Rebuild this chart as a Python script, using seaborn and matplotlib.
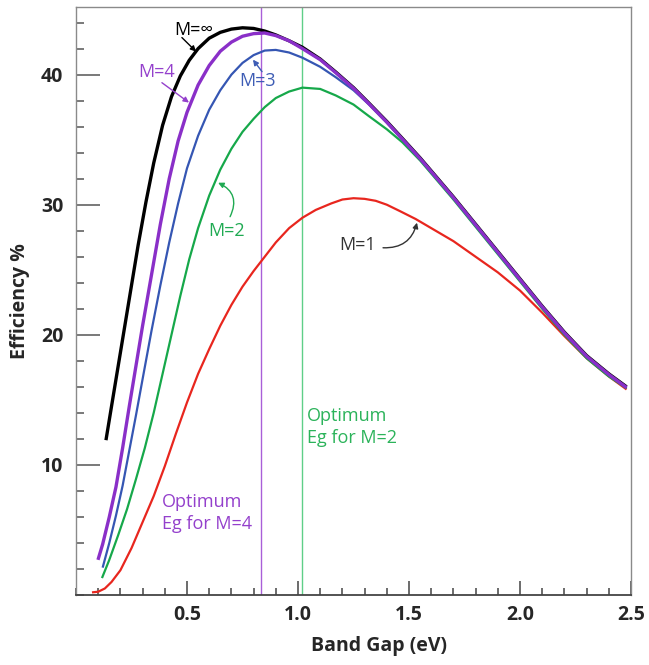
import matplotlib
matplotlib.use("Agg")
import matplotlib.pyplot as plt
from matplotlib.ticker import MultipleLocator, FixedLocator
import pandas as pd
import seaborn as sns

# Curvas (band gap en eV, eficiencia en %)
eg_inf = [0.135, 0.16, 0.19, 0.22, 0.25, 0.28, 0.315, 0.35, 0.39, 0.43, 0.47, 0.51, 0.55, 0.6,
          0.65, 0.7, 0.75, 0.8, 0.85, 0.9, 0.96, 1.02, 1.1, 1.17, 1.25, 1.32, 1.4, 1.47, 1.55,
          1.62, 1.7, 1.8, 1.9, 2.0, 2.1, 2.2, 2.3, 2.4, 2.48]
eff_inf = [11.9, 14.5, 17.6, 20.7, 23.8, 26.9, 30.2, 33.2, 36.1, 38.3, 39.9, 41.1, 42.0, 42.8,
           43.25, 43.5, 43.6, 43.55, 43.35, 43.05, 42.6, 42.1, 41.2, 40.2, 39.0, 37.8, 36.4, 35.1,
           33.6, 32.2, 30.6, 28.5, 26.4, 24.3, 22.2, 20.2, 18.4, 17.0, 16.0]

eg_m4 = [0.099, 0.12, 0.15, 0.18, 0.21, 0.24, 0.27, 0.30, 0.34, 0.38, 0.42, 0.46, 0.50, 0.55,
         0.6, 0.65, 0.7, 0.75, 0.8, 0.85, 0.9, 0.96, 1.02, 1.1, 1.17, 1.25, 1.32, 1.4, 1.47, 1.55,
         1.62, 1.7, 1.8, 1.9, 2.0, 2.1, 2.2, 2.3, 2.4, 2.48]
eff_m4 = [2.7, 3.9, 6.0, 8.3, 11.3, 14.5, 17.6, 20.7, 24.6, 28.5, 32.0, 34.9, 37.1, 39.2,
          40.7, 41.8, 42.5, 42.95, 43.15, 43.2, 43.0, 42.6, 42.0, 41.15, 40.15, 38.95, 37.75, 36.35,
          35.05, 33.55, 32.15, 30.55, 28.45, 26.35, 24.25, 22.15, 20.15, 18.35, 16.95, 15.95]

eg_m3 = [0.12, 0.15, 0.18, 0.21, 0.24, 0.27, 0.30, 0.34, 0.38, 0.42, 0.46, 0.50, 0.55, 0.6,
         0.65, 0.7, 0.75, 0.8, 0.85, 0.9, 0.96, 1.02, 1.1, 1.17, 1.25, 1.32, 1.4, 1.47, 1.55,
         1.62, 1.7, 1.8, 1.9, 2.0, 2.1, 2.2, 2.3, 2.4, 2.48]
eff_m3 = [2.1, 4.0, 6.1, 8.4, 11.1, 13.8, 16.6, 20.3, 23.8, 27.1, 30.1, 32.8, 35.3, 37.3,
          38.8, 40.0, 40.9, 41.5, 41.85, 41.9, 41.7, 41.3, 40.6, 39.8, 38.8, 37.7, 36.3, 35.0,
          33.5, 32.1, 30.5, 28.4, 26.3, 24.2, 22.1, 20.1, 18.3, 16.9, 15.9]

eg_m2 = [0.117, 0.15, 0.19, 0.23, 0.27, 0.31, 0.35, 0.39, 0.43, 0.47, 0.51, 0.55, 0.6, 0.65,
         0.7, 0.75, 0.8, 0.85, 0.9, 0.96, 1.02, 1.1, 1.17, 1.25, 1.32, 1.4, 1.47, 1.55, 1.62,
         1.7, 1.8, 1.9, 2.0, 2.1, 2.2, 2.3, 2.4, 2.48]
eff_m2 = [1.3, 2.7, 4.6, 6.6, 8.9, 11.3, 14.0, 17.0, 20.0, 23.0, 25.8, 28.2, 30.7, 32.7,
          34.3, 35.6, 36.6, 37.5, 38.2, 38.7, 39.0, 38.9, 38.4, 37.7, 36.8, 35.8, 34.8, 33.4, 32.0,
          30.4, 28.3, 26.2, 24.1, 22.0, 20.0, 18.2, 16.8, 15.9]

eg_m1 = [0.072, 0.1, 0.13, 0.16, 0.2, 0.25, 0.3, 0.35, 0.4, 0.45, 0.5, 0.55, 0.6, 0.65, 0.7,
         0.75, 0.8, 0.85, 0.9, 0.96, 1.02, 1.08, 1.15, 1.2, 1.25, 1.3, 1.35, 1.4, 1.46, 1.53,
         1.6, 1.7, 1.8, 1.9, 2.0, 2.1, 2.2, 2.3, 2.4, 2.48]
eff_m1 = [0.2, 0.25, 0.5, 1.0, 1.9, 3.6, 5.6, 7.6, 9.9, 12.4, 14.8, 17.0, 18.9, 20.7, 22.3,
          23.7, 24.9, 26.0, 27.1, 28.2, 29.0, 29.6, 30.1, 30.4, 30.5, 30.45, 30.3, 30.0, 29.5, 28.9,
          28.2, 27.2, 26.0, 24.8, 23.4, 21.7, 19.9, 18.2, 16.8, 15.8]

eg_opt_m4 = 0.835
eg_opt_m2 = 1.02

curvas = [
    ("M=1", eg_m1, eff_m1, "#e8261e", 1.6),
    ("M=2", eg_m2, eff_m2, "#16a84a", 1.6),
    ("M=inf", eg_inf, eff_inf, "#000000", 2.4),
    ("M=3", eg_m3, eff_m3, "#3556b3", 1.6),
    ("M=4", eg_m4, eff_m4, "#8a2fc8", 2.4),
]

sns.set_style("ticks")
plt.rcParams['font.family'] = ['Open Sans', 'DejaVu Sans']

fig = plt.figure(figsize=(6.49, 6.65), dpi=100)
ax = fig.add_axes([0.1171, 0.1053, 0.8552, 0.8842])

# Lineas verticales del optimo
ax.axvline(eg_opt_m4, color="#a95fd8", lw=1.0, zorder=1)
ax.axvline(eg_opt_m2, color="#5fcf88", lw=1.0, zorder=1)

for nombre, eg, eff, color, ancho in curvas:
    df = pd.DataFrame({"eg": eg, "eff": eff})
    sns.lineplot(data=df, x="eg", y="eff", color=color, linewidth=ancho, ax=ax,
                 estimator=None, sort=False, solid_joinstyle="round", solid_capstyle="butt")

ax.set_xlim(0, 2.5)
ax.set_ylim(0, 45.2)
ax.xaxis.set_major_locator(FixedLocator([0.5, 1.0, 1.5, 2.0, 2.5]))
ax.xaxis.set_minor_locator(MultipleLocator(0.1))
ax.yaxis.set_major_locator(FixedLocator([10, 20, 30, 40]))
ax.yaxis.set_minor_locator(MultipleLocator(2))
ax.set_xticklabels(["0.5", "1.0", "1.5", "2.0", "2.5"], fontsize=14, fontweight="bold")
ax.set_yticklabels(["10", "20", "30", "40"], fontsize=14, fontweight="bold")

ax.tick_params(axis="y", which="major", direction="in", length=17, width=1.1, color="#555555", pad=9)
ax.tick_params(axis="y", which="minor", direction="in", length=6, width=1.1, color="#555555")
ax.tick_params(axis="x", which="major", direction="in", length=10, width=1.1, color="#444444", pad=7)
ax.tick_params(axis="x", which="minor", direction="in", length=5, width=1.1, color="#444444")

for lado in ["left", "top", "right"]:
    ax.spines[lado].set_color("#8a8a8a")
    ax.spines[lado].set_linewidth(1.0)
ax.spines["bottom"].set_color("#444444")
ax.spines["bottom"].set_linewidth(1.3)

ax.set_xlabel("Band Gap (eV)", fontsize=14, fontweight="bold")
ax.set_ylabel("Efficiency %", fontsize=14, fontweight="bold")
ax.xaxis.set_label_coords(0.546, -0.07)
ax.yaxis.set_label_coords(-0.083, 0.5)

# Etiquetas de las curvas con flechas
flecha = dict(arrowstyle="-|>", lw=1.0, mutation_scale=8, shrinkA=0, shrinkB=0)
ax.text(0.532, 43.4, "M=∞", color="black", fontsize=13, ha="center", va="center")
ax.annotate("", xy=(0.541, 41.77), xytext=(0.477, 42.85), arrowprops=dict(flecha, color="black"))

ax.text(0.365, 40.2, "M=4", color="#9440cc", fontsize=13, ha="center", va="center")
ax.annotate("", xy=(0.509, 37.85), xytext=(0.387, 39.38), arrowprops=dict(flecha, color="#9440cc"))

ax.text(0.82, 39.5, "M=3", color="#3e5db5", fontsize=13, ha="center", va="center")
ax.annotate("", xy=(0.797, 41.15), xytext=(0.838, 40.23), arrowprops=dict(flecha, color="#3e5db5"))

ax.text(0.676, 28.0, "M=2", color="#1faa52", fontsize=13, ha="center", va="center")
ax.annotate("", xy=(0.640, 31.69), xytext=(0.694, 29.08),
            arrowprops=dict(flecha, color="#1faa52", connectionstyle="arc3,rad=0.5"))

ax.text(1.27, 26.9, "M=1", color="#333333", fontsize=13, ha="center", va="center")
ax.annotate("", xy=(1.536, 28.62), xytext=(1.383, 26.69),
            arrowprops=dict(flecha, color="#333333", connectionstyle="arc3,rad=0.4"))

ax.text(0.387, 7.85, "Optimum\nEg for M=4", color="#9440cc", fontsize=13, ha="left", va="top",
        linespacing=1.3)
ax.text(1.04, 14.46, "Optimum\nEg for M=2", color="#2bb35a", fontsize=13, ha="left", va="top",
        linespacing=1.3)

plt.savefig("out.png", dpi=100)
